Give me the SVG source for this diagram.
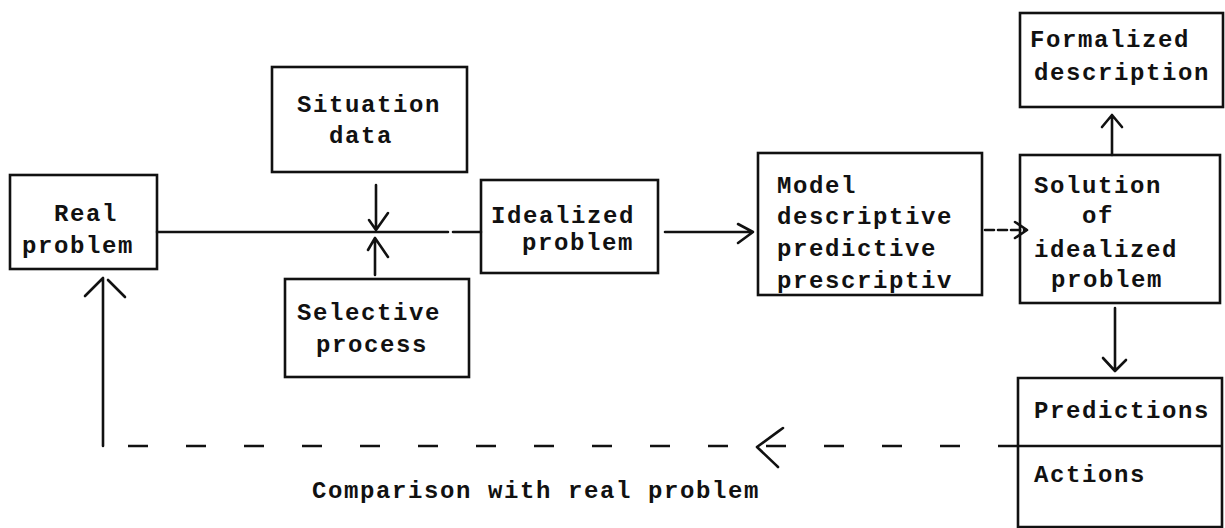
<svg xmlns="http://www.w3.org/2000/svg" width="1225" height="528" viewBox="0 0 1225 528">
<style>
.box{fill:none;stroke:#111;stroke-width:2.6}
.ln{fill:none;stroke:#111;stroke-width:2.6;stroke-linecap:round;stroke-linejoin:round}
.dash{fill:none;stroke:#111;stroke-width:2.6;stroke-dasharray:20 38}
text{font-family:"Liberation Mono","DejaVu Sans Mono",monospace;font-size:24px;font-weight:bold;letter-spacing:1.6px;fill:#111}
</style>
<rect width="1225" height="528" fill="#fff"/>
<g id="real-problem">
<rect class="box" x="10" y="175" width="147" height="94"/>
<text x="54" y="221">Real</text>
<text x="22" y="253">problem</text>
</g>
<g id="situation-data">
<rect class="box" x="272" y="67" width="195" height="105"/>
<text x="297" y="112">Situation</text>
<text x="329" y="143">data</text>
</g>
<g id="selective-process">
<rect class="box" x="285" y="279" width="184" height="98"/>
<text x="297" y="320">Selective</text>
<text x="316" y="352">process</text>
</g>
<g id="idealized-problem">
<rect class="box" x="481" y="180" width="177" height="93"/>
<text x="491" y="223">Idealized</text>
<text x="522" y="250">problem</text>
</g>
<g id="model">
<rect class="box" x="758" y="153" width="224" height="142"/>
<text x="777" y="193">Model</text>
<text x="777" y="224">descriptive</text>
<text x="777" y="256">predictive</text>
<text x="777" y="288">prescriptiv</text>
</g>
<g id="solution">
<rect class="box" x="1020" y="155" width="200" height="148"/>
<text x="1034" y="193">Solution</text>
<text x="1082" y="223">of</text>
<text x="1034" y="257">idealized</text>
<text x="1051" y="287">problem</text>
</g>
<g id="formalized-description">
<rect class="box" x="1020" y="13" width="203" height="94"/>
<text x="1030" y="47">Formalized</text>
<text x="1034" y="80">description</text>
</g>
<g id="predictions-actions">
<path class="box" d="M1018 378 H1222 V527 H1018 Z M1018 446 H1222"/>
<text x="1034" y="418">Predictions</text>
<text x="1034" y="482">Actions</text>
</g>
<g id="connectors">
<path class="ln" d="M157 232 H448 M453 232 H481"/>
<path class="ln" d="M376 185 V230 M369 220 L376 230 L388 213"/>
<path class="ln" d="M375 275 V238 M368 250 L375 238 L388 257"/>
<path class="ln" d="M665 232 H753 M738 224 L753 232 L738 243"/>
<path class="ln" d="M985 230 H1026" stroke-dasharray="9 4"/>
<path class="ln" d="M1015 222 L1027 230 L1015 238"/>
<path class="ln" d="M1112 155 V116 M1102 127 L1112 115 L1122 127"/>
<path class="ln" d="M1115 308 V370 M1103 358 L1115 371 L1126 360"/>
<path class="dash" d="M1018 446 H103"/>
<path class="ln" d="M757 447 L778 467 M757 447 L783 428" stroke-dasharray="26 0"/>
<path class="ln" d="M103 446 V278 M85 296 L103 278 M108 280 L125 297"/>
</g>
<text x="312" y="498">Comparison with real problem</text>
</svg>
